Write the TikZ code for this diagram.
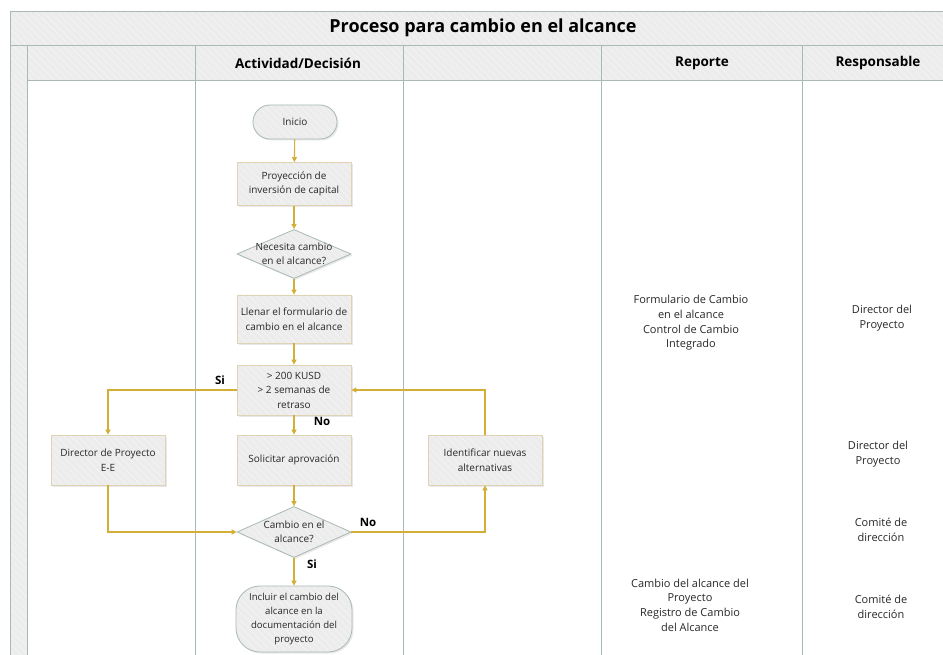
\documentclass[tikz,border=0pt]{standalone}
\usepackage{fontspec}
\setmainfont{Open Sans}
\usetikzlibrary{shapes.geometric,shapes.misc,arrows.meta,patterns.meta,shadows}
\definecolor{gold}{RGB}{212,175,55}
\definecolor{boxgray}{RGB}{236,236,236}
\definecolor{hatchc}{RGB}{245,245,245}
\definecolor{boxline}{RGB}{222,212,180}
\definecolor{frameline}{RGB}{168,186,178}
\definecolor{txt}{RGB}{40,40,40}
\tikzset{
  hatch/.style={preaction={fill=boxgray},preaction={pattern={Lines[angle=-45,distance=5pt,line width=0.6pt]},pattern color=hatchc}},
  sh/.style={drop shadow={opacity=0.18,shadow xshift=1.5pt,shadow yshift=-1.5pt}},
  proc/.style={rectangle,minimum width=114pt,minimum height=48pt,sh,hatch,draw=boxline,line width=0.8pt,
    align=center,font=\fontsize{10}{14.5}\selectfont,text=txt,inner sep=2pt},
  decis/.style={diamond,aspect=2.4,minimum width=114pt,minimum height=49pt,inner xsep=-9pt,inner ysep=-2pt,sh,hatch,
    draw=frameline,line width=0.8pt,align=center,font=\fontsize{10}{14.5}\selectfont,text=txt},
  term/.style={rectangle,rounded corners=17pt,minimum width=84pt,minimum height=34pt,sh,hatch,
    draw=frameline,line width=0.8pt,align=center,font=\fontsize{10}{14.5}\selectfont,text=txt},
  arr/.style={draw=gold,line width=1.1pt,-{Triangle[width=5pt,length=5pt]}},
  lbl/.style={font=\bfseries\fontsize{11.5}{13}\selectfont,text=black},
  side/.style={align=center,font=\fontsize{11}{14.6}\selectfont,text=txt},
  band/.style={hatch,draw=frameline,line width=1pt},
  colline/.style={draw=frameline,line width=1pt},
  hdr/.style={font=\bfseries\fontsize{13.5}{15}\selectfont,text=black},
}
\begin{document}
\begin{tikzpicture}[x=1pt,y=-1pt]
\useasboundingbox[fill=white] (0,0) rectangle (943,655);
% frame
\path[band] (10,12) rectangle (960,46);
\path[band] (10,46) rectangle (960,81);
\path[band] (10,46) rectangle (27,665);
\path[colline] (27,81) -- (960,81);
\foreach \xx in {195,403,601,802} {\path[colline] (\xx,46) -- (\xx,665);}
\node[font=\bfseries\fontsize{18}{20}\selectfont,text=black] (title) at (483,28) {Proceso para cambio en el alcance};
\node[hdr] (h1) at (298,63) {Actividad/Decisión};
\node[hdr] (h2) at (702,63) {Reporte};
\node[hdr] (h3) at (878,63) {Responsable};
% nodes
\node[term] (ini) at (295,122) {Inicio};
\node[proc,minimum height=43pt] (proy) at (294,184) {Proyección de\\inversión de capital};
\node[decis] (nec) at (294,254) {Necesita cambio\\en el alcance?};
\node[proc] (llen) at (294,319) {Llenar el formulario de\\cambio en el alcance};
\node[proc,minimum height=50pt] (kusd) at (294,390) {> 200 KUSD\\> 2 semanas de\\retraso};
\node[proc,minimum height=50pt] (dir) at (108,460) {Director de Proyecto\\E-E};
\node[proc,minimum height=50pt] (sol) at (294,460) {Solicitar aprovación};
\node[proc,minimum height=50pt] (ide) at (485,460) {Identificar nuevas\\alternativas};
\node[decis,minimum height=51pt] (camb) at (294,532) {Cambio en el\\alcance?};
\node[term,rounded corners=24pt,minimum width=116pt,minimum height=66pt,inner sep=1pt,font=\fontsize{9.6}{14}\selectfont] (incl) at (294,619) {Incluir el cambio del\\alcance en la\\documentación del\\proyecto};
% connectors
\draw[arr] (ini) -- (proy);
\draw[arr] (proy) -- (nec);
\draw[arr] (nec) -- (llen);
\draw[arr] (llen) -- (kusd);
\draw[arr] (kusd.west) -| (dir.north);
\draw[arr] (kusd) -- (sol);
\draw[arr] (sol) -- (camb);
\draw[arr] (dir.south) |- (camb.west);
\draw[arr] (camb.east) -| (ide.south);
\draw[arr] (ide.north) |- (kusd.east);
\draw[arr] (camb) -- (incl);
\node[lbl] (si1) at (220,380) {Si};
\node[lbl] (no1) at (322,421) {No};
\node[lbl] (no2) at (368,522) {No};
\node[lbl] (si2) at (312,564) {Si};
% side texts
\node[side] (r1) at (691,323) {Formulario de Cambio\\en el alcance\\Control de Cambio\\Integrado};
\node[side] (r2) at (690,605) {Cambio del alcance del\\Proyecto\\Registro de Cambio\\del Alcance};
\node[side] (p1) at (882,318) {Director del\\Proyecto};
\node[side] (p2) at (878,454) {Director del\\Proyecto};
\node[side] (p3) at (881,530) {Comité de\\dirección};
\node[side] (p4) at (881,607) {Comité de\\dirección};
\end{tikzpicture}
\end{document}
